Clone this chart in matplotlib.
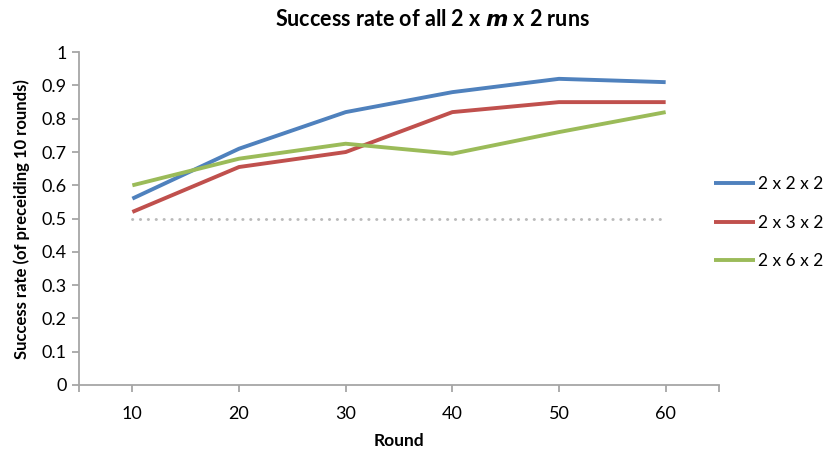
import matplotlib
matplotlib.use("Agg")
import matplotlib.pyplot as plt
import matplotlib.ticker as tk

rounds = [10, 20, 30, 40, 50, 60]
series_labels = ["2 x 2 x 2", "2 x 3 x 2", "2 x 6 x 2"]
rate_222 = [0.56, 0.71, 0.82, 0.88, 0.92, 0.91]
rate_232 = [0.52, 0.655, 0.70, 0.82, 0.85, 0.85]
rate_262 = [0.60, 0.68, 0.725, 0.695, 0.76, 0.82]
chance = [0.5] * len(rounds)

plt.rcParams['font.family'] = ['Lato', 'DejaVu Sans']

colors = ["#4F81BD", "#C0504D", "#9BBB59"]
grey = "#a6a6a6"

fig = plt.figure(figsize=(8.25, 4.54), dpi=100)
ax = fig.add_axes([0.0958, 0.152, 0.7757, 0.733])

ax.plot(rounds, chance, color="#bababa", linestyle=(0, (0.1, 2.6)), linewidth=2.1,
        dash_capstyle="round")
for vals, lab, c in zip([rate_222, rate_232, rate_262], series_labels, colors):
    ax.plot(rounds, vals, color=c, linewidth=2.8, label=lab, solid_capstyle="butt")

ax.set_xlim(5, 65)
ax.set_ylim(0, 1)
ax.set_xticks(rounds)
ax.set_yticks([i / 10 for i in range(11)])
ax.yaxis.set_major_formatter(tk.FuncFormatter(lambda v, p: "%g" % round(v, 1)))
ax.xaxis.set_minor_locator(tk.FixedLocator([5, 65]))

for s in ["top", "right"]:
    ax.spines[s].set_visible(False)
for s in ["left", "bottom"]:
    ax.spines[s].set_color(grey)
    ax.spines[s].set_linewidth(1.3)
ax.tick_params(axis="both", which="both", color=grey, width=1.3, length=5,
               labelsize=13, labelcolor="black")
ax.tick_params(axis="x", pad=10)
ax.tick_params(axis="y", pad=4)

ax.set_xlabel("Round", fontsize=12.5, fontweight="bold", labelpad=8)
ax.set_ylabel("Success rate (of preceiding 10 rounds)", fontsize=12, fontweight="bold",
              labelpad=8)
fig.text(0.524, 0.958, "Success rate of all 2 x $\\mathbfit{m}$ x 2 runs", ha="center",
         va="center", fontsize=15.5, fontweight="bold")

leg = ax.legend(loc="center left", bbox_to_anchor=(0.865, 0.509),
                bbox_transform=fig.transFigure, frameon=False, borderpad=0,
                borderaxespad=0, fontsize=12.5, handlelength=2.36,
                handletextpad=0.2, labelspacing=1.3)

plt.savefig("out.png", dpi=100)
